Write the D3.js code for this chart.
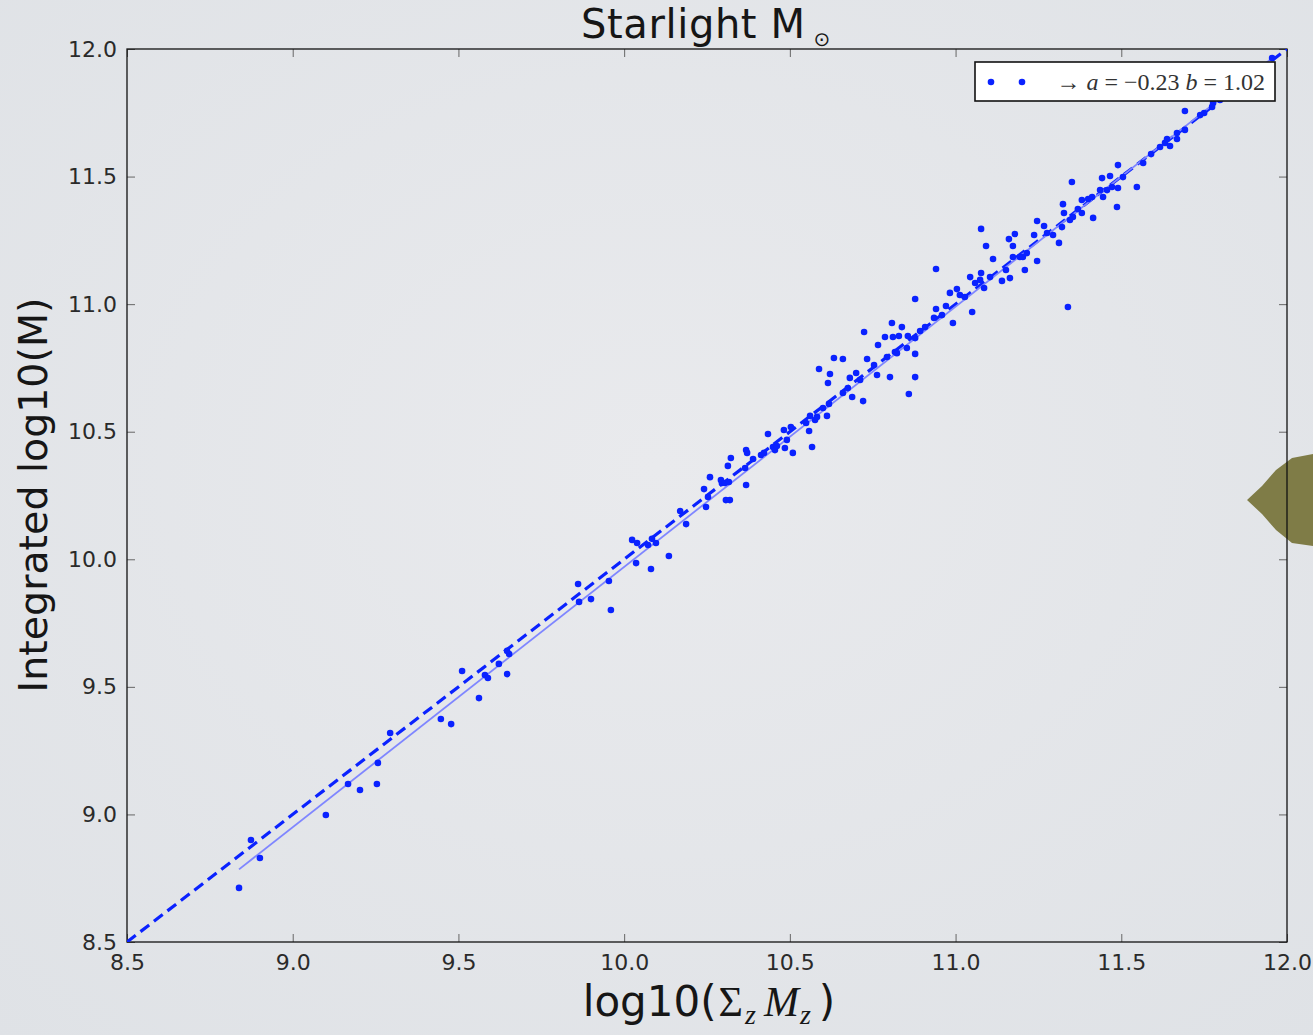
<!DOCTYPE html>
<html>
<head>
<meta charset="utf-8">
<script src="https://cdn.jsdelivr.net/npm/d3@7"></script>
<style>
  html, body { margin: 0; padding: 0; background: #e6e8eb; }
  svg { display: block; }
</style>
</head>
<body>
<svg id="chart" width="1313" height="1035"></svg>
<script>
// ---- Data ----
const xTicks = [8.5, 9.0, 9.5, 10.0, 10.5, 11.0, 11.5, 12.0];
const yTicks = [8.5, 9.0, 9.5, 10.0, 10.5, 11.0, 11.5, 12.0];
const fitA = -0.23;
const fitB = 1.02;
const legendLabel = ["→ ", "a", " = −0.23 ", "b", " = 1.02"];

const sumMz = [
  8.838, 8.874, 8.901, 9.100, 9.167, 9.203, 9.254, 9.257, 9.294, 9.447,
  9.478, 9.562, 9.511, 9.580, 9.589, 9.622, 9.647, 9.653, 9.647, 9.861,
  9.864, 9.900, 9.960, 9.954, 10.024, 10.039, 10.084, 10.096, 10.072, 10.036,
  10.081, 10.135, 10.169, 10.187, 10.241, 10.247, 10.295, 10.307, 10.319, 10.368,
  10.259, 10.253, 10.292, 10.304, 10.316, 10.313, 10.322, 10.365, 10.368, 10.371,
  10.389, 10.413, 10.422, 10.434, 10.449, 10.455, 10.461, 10.485, 10.509, 10.482,
  10.503, 10.491, 10.549, 10.558, 10.567, 10.576, 10.582, 10.588, 10.561, 10.612,
  10.600, 10.618, 10.621, 10.615, 10.633, 10.660, 10.660, 10.688, 10.675, 10.681,
  10.700, 10.712, 10.721, 10.724, 10.733, 10.754, 10.763, 10.766, 10.793, 10.802,
  10.808, 10.817, 10.823, 10.787, 10.811, 10.829, 10.838, 10.856, 10.853, 10.878,
  10.878, 10.859, 10.878, 10.878, 10.893, 10.908, 10.935, 10.941, 10.941, 10.959,
  10.971, 10.983, 10.992, 11.004, 11.013, 11.028, 11.050, 11.044, 11.059, 11.074,
  11.077, 11.086, 11.077, 11.092, 11.104, 11.113, 11.140, 11.152, 11.164, 11.161,
  11.173, 11.179, 11.173, 11.194, 11.203, 11.215, 11.209, 11.246, 11.246, 11.237,
  11.267, 11.276, 11.294, 11.312, 11.321, 11.324, 11.327, 11.339, 11.354, 11.369,
  11.351, 11.381, 11.381, 11.412, 11.415, 11.436, 11.442, 11.445, 11.466, 11.472,
  11.487, 11.490, 11.490, 11.505, 11.547, 11.566, 11.590, 11.617, 11.632, 11.638,
  11.647, 11.668, 11.668, 11.692, 11.692, 11.738, 11.750, 11.774, 11.777, 11.798,
  11.955, 11.400, 11.457, 11.345
];
const integratedM = [
  8.712, 8.900, 8.829, 8.998, 9.119, 9.096, 9.119, 9.202, 9.319, 9.374,
  9.354, 9.456, 9.562, 9.546, 9.535, 9.590, 9.550, 9.629, 9.641, 9.903,
  9.833, 9.844, 9.801, 9.915, 10.076, 10.064, 10.080, 10.064, 10.056, 9.985,
  9.962, 10.013, 10.189, 10.138, 10.275, 10.205, 10.299, 10.232, 10.232, 10.291,
  10.322, 10.244, 10.311, 10.299, 10.303, 10.366, 10.397, 10.358, 10.428, 10.417,
  10.393, 10.409, 10.417, 10.491, 10.440, 10.428, 10.444, 10.436, 10.417, 10.507,
  10.518, 10.468, 10.534, 10.503, 10.440, 10.546, 10.558, 10.746, 10.562, 10.562,
  10.593, 10.609, 10.726, 10.691, 10.789, 10.785, 10.652, 10.636, 10.671, 10.711,
  10.730, 10.703, 10.620, 10.891, 10.785, 10.761, 10.722, 10.840, 10.793, 10.714,
  10.926, 10.812, 10.808, 10.871, 10.871, 10.875, 10.910, 10.875, 10.828, 10.805,
  10.714, 10.648, 10.867, 11.020, 10.895, 10.910, 10.946, 10.981, 11.138, 10.957,
  10.993, 11.044, 10.926, 11.059, 11.036, 11.028, 10.969, 11.106, 11.083, 11.095,
  11.122, 11.063, 11.295, 11.228, 11.106, 11.177, 11.091, 11.134, 11.102, 11.255,
  11.228, 11.275, 11.185, 11.185, 11.185, 11.200, 11.134, 11.326, 11.169, 11.271,
  11.306, 11.279, 11.271, 11.240, 11.302, 11.392, 11.357, 10.989, 11.342, 11.373,
  11.479, 11.408, 11.357, 11.420, 11.338, 11.447, 11.494, 11.420, 11.502, 11.459,
  11.381, 11.545, 11.455, 11.498, 11.459, 11.553, 11.588, 11.616, 11.632, 11.647,
  11.620, 11.647, 11.671, 11.757, 11.683, 11.741, 11.749, 11.773, 11.788, 11.800,
  11.965, 11.412, 11.447, 11.330
];

// ---- Layout ----
const svg = d3.select("#chart");
const W = 1313, H = 1035;
const margin = { left: 127, right: 26, top: 49, bottom: 93 };
const iw = W - margin.left - margin.right;
const ih = H - margin.top - margin.bottom;

const defs = svg.append("defs");
const grad = defs.append("radialGradient").attr("id", "bg")
  .attr("cx", "50%").attr("cy", "45%").attr("r", "75%");
grad.append("stop").attr("offset", "0%").attr("stop-color", "#e9eaed");
grad.append("stop").attr("offset", "100%").attr("stop-color", "#dfe2e6");
svg.append("rect").attr("width", W).attr("height", H).attr("fill", "url(#bg)");

// decorative olive shape at right edge
svg.append("path")
  .attr("d", "M1247,500 L1262,486 L1276,470 L1292,458 L1313,454 L1313,546 L1292,543 L1276,530 L1262,514 Z")
  .attr("fill", "#7f7c47");

const x = d3.scaleLinear().domain([8.5, 12.0]).range([0, iw]);
const y = d3.scaleLinear().domain([8.5, 12.0]).range([ih, 0]);

const g = svg.append("g").attr("transform", `translate(${margin.left},${margin.top})`);

const clip = defs.append("clipPath").attr("id", "clip");
clip.append("rect").attr("width", iw).attr("height", ih);

const tickFmt = d3.format(".1f");
const fontTick = "'DejaVu Sans', sans-serif";

// bottom axis
const xAxis = g.append("g").attr("transform", `translate(0,${ih})`)
  .call(d3.axisBottom(x).tickValues(xTicks).tickFormat(tickFmt).tickSizeInner(-8).tickSizeOuter(0).tickPadding(12));
// left axis
const yAxis = g.append("g")
  .call(d3.axisLeft(y).tickValues(yTicks).tickFormat(tickFmt).tickSizeInner(-8).tickSizeOuter(0).tickPadding(10));
// top axis
const xTop = g.append("g")
  .call(d3.axisTop(x).tickValues(xTicks).tickFormat("").tickSizeInner(-8).tickSizeOuter(0));
// right axis
const yRight = g.append("g").attr("transform", `translate(${iw},0)`)
  .call(d3.axisRight(y).tickValues(yTicks).tickFormat("").tickSizeInner(-8).tickSizeOuter(0));

[xAxis, yAxis, xTop, yRight].forEach(a => {
  a.select(".domain").remove();
  a.selectAll(".tick line").attr("stroke", "#666").attr("stroke-width", 1);
  a.selectAll(".tick text").attr("fill", "#2a2a2a").style("font-family", fontTick).style("font-size", "22px");
});

// frame
g.append("rect").attr("width", iw).attr("height", ih)
  .attr("fill", "none").attr("stroke", "#111").attr("stroke-width", 1.3);

const plot = g.append("g").attr("clip-path", "url(#clip)");

// identity dashed line
plot.append("path")
  .attr("d", d3.line()([[x(8.5), y(8.5)], [x(12.0), y(12.0)]]))
  .attr("stroke", "#0a22ff").attr("stroke-width", 3.2)
  .attr("stroke-dasharray", "11,6").attr("fill", "none");

// fit line
const xmin = d3.min(sumMz), xmax = d3.max(sumMz);
plot.append("path")
  .attr("d", d3.line()([[x(xmin), y(fitA + fitB * xmin)], [x(xmax), y(fitA + fitB * xmax)]]))
  .attr("stroke", "#7f86ff").attr("stroke-width", 1.8).attr("fill", "none");

// scatter points
plot.selectAll("circle.pt").data(sumMz.map((v, i) => [v, integratedM[i]]))
  .join("circle").attr("class", "pt")
  .attr("cx", d => x(d[0])).attr("cy", d => y(d[1]))
  .attr("r", 3.3).attr("fill", "#0a22ff");

// legend
const lg = svg.append("g").attr("transform", "translate(975,62)");
lg.append("rect").attr("width", 300).attr("height", 39)
  .attr("fill", "#ffffff").attr("stroke", "#111").attr("stroke-width", 1.6);
lg.selectAll("circle").data([16, 47]).join("circle")
  .attr("cx", d => d).attr("cy", 20).attr("r", 3.3).attr("fill", "#0a22ff");
const lt = lg.append("text").attr("x", 290).attr("y", 28).attr("text-anchor", "end")
  .style("font-family", "'Liberation Serif', 'DejaVu Serif', serif").style("font-size", "24px").attr("fill", "#333");
legendLabel.forEach((s, i) => {
  lt.append("tspan").text(s).style("font-style", (s === "a" || s === "b") ? "italic" : "normal");
});

// title
const title = svg.append("text").attr("x", 581).attr("y", 38)
  .style("font-family", "'DejaVu Sans', sans-serif").style("font-size", "40px").attr("fill", "#161616");
title.append("tspan").text("Starlight M").attr("textLength", 224);
title.append("tspan").text("⊙").style("font-size", "20px").attr("dx", 8).attr("dy", 8);

// y label
svg.append("text").attr("transform", "translate(47,495) rotate(-90)").attr("text-anchor", "middle")
  .style("font-family", "'DejaVu Sans', sans-serif").style("font-size", "39.5px").attr("fill", "#161616")
  .text("Integrated log10(M)");

// x label
const xl = svg.append("text").attr("x", 709).attr("y", 1016).attr("text-anchor", "middle")
  .style("font-size", "42px").attr("fill", "#161616");
xl.append("tspan").text("log10(").style("font-family", "'DejaVu Sans', sans-serif");
xl.append("tspan").text("Σ").style("font-family", "'Liberation Serif', serif").attr("dx", 2);
xl.append("tspan").text("z").style("font-family", "'Liberation Serif', serif").style("font-style", "italic").style("font-size", "28px").attr("dy", 8).attr("dx", 2);
xl.append("tspan").text("M").style("font-family", "'Liberation Serif', serif").style("font-style", "italic").attr("dy", -8).attr("dx", 8);
xl.append("tspan").text("z").style("font-family", "'Liberation Serif', serif").style("font-style", "italic").style("font-size", "28px").attr("dy", 8).attr("dx", 1);
xl.append("tspan").text(")").style("font-family", "'DejaVu Sans', sans-serif").attr("dy", -8).attr("dx", 8);
</script>
</body>
</html>
